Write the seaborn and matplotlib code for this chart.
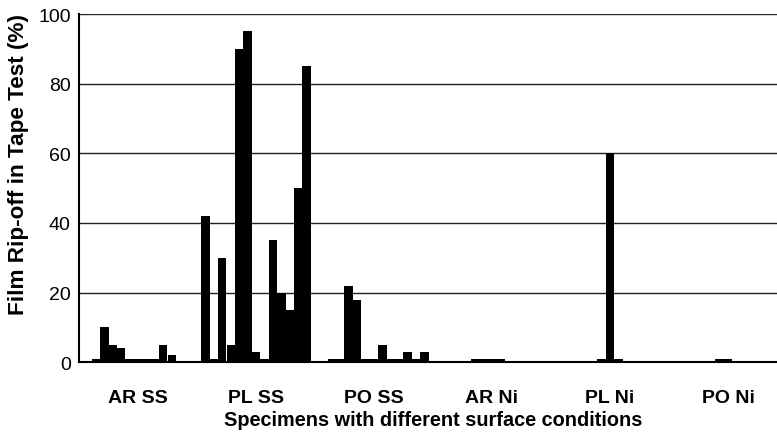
import matplotlib
matplotlib.use("Agg")
import matplotlib.pyplot as plt
import pandas as pd
import seaborn as sns

# Data (13 specimens per surface condition)
groups = ["AR SS", "PL SS", "PO SS", "AR Ni", "PL Ni", "PO Ni"]
ar_ss = [0, 1, 10, 5, 4, 1, 1, 1, 1, 5, 2, 0, 0]
pl_ss = [42, 1, 30, 5, 90, 95, 3, 1, 35, 20, 15, 50, 85]
po_ss = [0, 1, 1, 22, 18, 1, 1, 5, 1, 1, 3, 1, 3]
ar_ni = [0, 0, 0, 0, 1, 1, 1, 1, 0, 0, 0, 0, 0]
pl_ni = [0, 0, 0, 0, 0, 1, 60, 1, 0, 0, 0, 0, 0]
po_ni = [0, 0, 0, 0, 0, 1, 1, 0, 0, 0, 0, 0, 0]
specimens = [f"s{i + 1}" for i in range(13)]

rows = []
for g, vals in zip(groups, [ar_ss, pl_ss, po_ss, ar_ni, pl_ni, po_ni]):
    for s, v in zip(specimens, vals):
        rows.append({"group": g, "specimen": s, "value": v})
df = pd.DataFrame(rows)

sns.set_style("white", {"text.color": "black", "axes.labelcolor": "black",
                        "xtick.color": "black", "ytick.color": "black"})
plt.rcParams["font.family"] = ["Liberation Sans", "DejaVu Sans"]

fig = plt.figure(figsize=(7.77, 4.39), dpi=100)
ax = fig.add_axes([79 / 777, (439 - 363.3) / 439, 708 / 777, 348.3 / 439])

sns.barplot(data=df, x="group", y="value", hue="specimen",
            order=groups, hue_order=specimens,
            palette=["black"] * len(specimens), saturation=1,
            width=13 / 14, gap=0, legend=False, errorbar=None,
            edgecolor="none", linewidth=0, ax=ax)

ax.set_xlim(-0.5, 5.5)
ax.set_ylim(0, 100)
ax.set_yticks([0, 20, 40, 60, 80, 100])
ax.yaxis.grid(True, color="#222222", linewidth=1.0)
ax.set_axisbelow(True)

# group labels at centres, tick marks at group boundaries
ax.set_xticks(range(len(groups)))
ax.set_xticklabels(groups, fontweight="bold", fontsize=14)
ax.set_xticks([i - 0.5 for i in range(len(groups) + 1)], minor=True)
ax.tick_params(axis="x", which="major", length=0, pad=19)
ax.tick_params(axis="x", which="minor", direction="inout", length=9,
               width=1, color="black")
ax.tick_params(axis="y", direction="out", length=3, width=1,
               color="black", labelsize=14, pad=3)

for side in ["top", "right"]:
    ax.spines[side].set_visible(False)
for side in ["left", "bottom"]:
    ax.spines[side].set_color("black")
    ax.spines[side].set_linewidth(1.5)

ax.set_xlabel("Specimens with different surface conditions",
              fontweight="bold", fontsize=14.3, labelpad=3)
ax.set_ylabel("Film Rip-off in Tape Test (%)",
              fontweight="bold", fontsize=16.2)
ax.yaxis.set_label_coords(-0.07, 0.57)

fig.savefig("out.png", dpi=100)
